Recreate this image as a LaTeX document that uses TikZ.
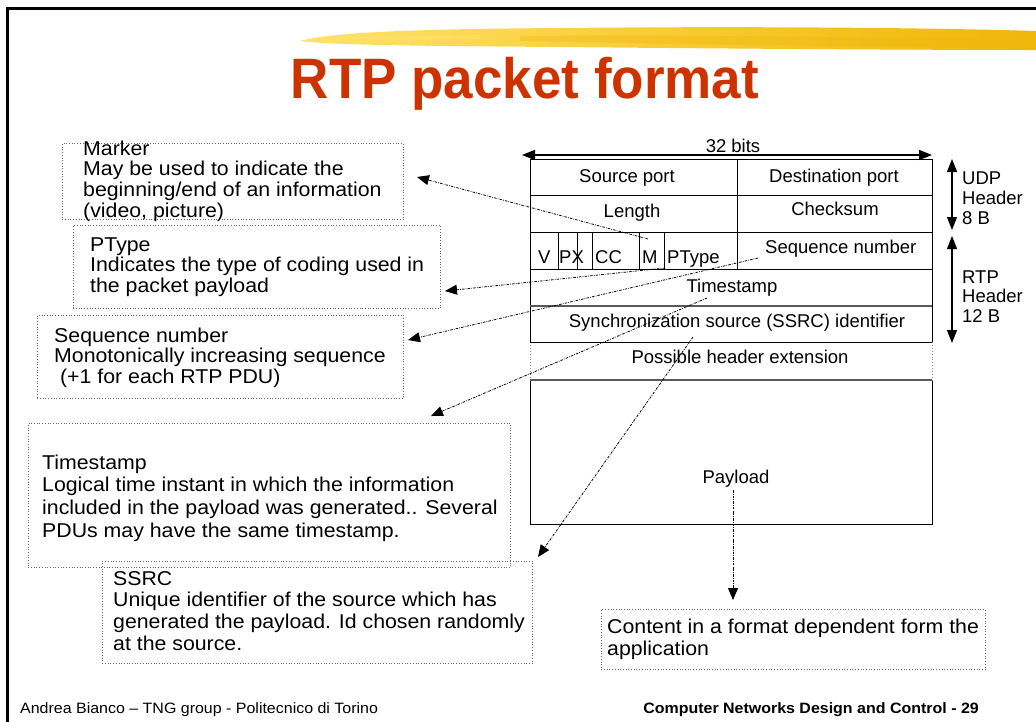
\documentclass[tikz,border=0pt]{standalone}
\usepackage{fontspec}
\setmainfont{Liberation Sans}
\newfontfamily\widefont{Liberation Sans}[FakeStretch=1.065]
\newfontfamily\titlefont{Liberation Sans}[FakeStretch=0.93]
\usetikzlibrary{arrows.meta}
\definecolor{titlered}{RGB}{204,51,0}
\definecolor{brushA}{RGB}{255,226,110}
\definecolor{brushM}{RGB}{248,204,50}
\definecolor{brushB}{RGB}{240,182,10}
\newcommand{\tl}[1]{\vtop{\let\\\cr\halign{##\hfil\cr#1\crcr}}}
\tikzset{
  tbl/.style={font=\fontsize{18.5}{20}\selectfont, inner sep=0},
  note/.style={font=\widefont\fontsize{20}{20.8}\selectfont, inner sep=0, anchor=base west},
  notebox/.style={draw=black!60, dotted, line width=0.7pt, inner sep=0, anchor=north west},
  ptr/.style={dash pattern=on 2.5pt off 1.2pt on 0.7pt off 1.2pt, line width=0.8pt, -{Triangle[length=12pt,width=10pt]}},
  dimarrow/.style={line width=1.1pt, {Triangle[length=13pt,width=10pt]}-{Triangle[length=13pt,width=10pt]}},
  grid/.style={line width=0.9pt},
}
\begin{document}
\begin{tikzpicture}[x=1pt,y=-1pt]
\useasboundingbox (0,0) rectangle (1036,721);
% slide frame
\draw[line width=3pt] (7.5,730) -- (7.5,8.5) -- (1045,8.5);
% brush stroke
\shade[left color=brushA, right color=brushB, middle color=brushM] (300,41) .. controls (330,32) and (420,29) .. (560,28) .. controls (760,26) and (940,28) .. (1036,31) -- (1036,50) .. controls (940,50) and (760,49) .. (560,47) .. controls (420,46) and (330,45) .. cycle;
\fill[brushB, opacity=0.35] (520,36) .. controls (650,35) and (800,36) .. (1036,40) -- (1036,48) .. controls (800,46) and (650,44) .. (520,41) -- cycle;
\fill[brushA, opacity=0.5] (310,40) .. controls (360,36) and (420,35) .. (480,35) -- (480,39) .. controls (420,40) and (360,41) .. cycle;
% title
\node[anchor=base, text=titlered, font=\titlefont\bfseries\fontsize{57}{60}\selectfont, inner sep=0] (title) at (525,98) {RTP packet format};

% ---- packet table ----
\draw[grid] (530,159) -- (932,159);
\draw[grid] (530,159) -- (530,342);
\draw[grid] (932,159) -- (932,342);
\draw[grid] (530,380) -- (530,524) -- (932,524) -- (932,380);
\draw[black!45, dotted, line width=0.9pt] (530,342) -- (530,380);
\draw[black!45, dotted, line width=0.9pt] (932,342) -- (932,380);
\draw[grid] (530,195) -- (932,195);
\draw[grid] (530,232) -- (932,232);
\draw[grid] (530,269) -- (932,269);
\draw[black!65, line width=1.3pt] (530,306) -- (932,306);
\draw[grid] (530,342) -- (932,342);
\draw[black!65, line width=1.3pt] (530,380) -- (932,380);
\draw[grid] (737,159) -- (737,269);
\foreach \xx in {558,577,592,639,664} \draw[line width=0.7pt] (\xx,232) -- (\xx,269);

\node[tbl, anchor=base] (src) at (627,182) {Source port};
\node[tbl, anchor=base] (dst) at (834,182) {Destination port};
\node[tbl, anchor=base] (len) at (632,217) {Length};
\node[tbl, anchor=base] (chk) at (835,215) {Checksum};
\node[tbl, anchor=base west] (fv) at (538,263) {V};
\node[tbl, anchor=base west] (fpx) at (559,263) {PX};
\node[tbl, anchor=base west] (fcc) at (595,263) {CC};
\node[tbl, anchor=base west] (fm) at (642,263) {M};
\node[tbl, anchor=base west] (fpt) at (667,263) {PType};
\node[tbl, anchor=base west] (fseq) at (765,253) {Sequence number};
\node[tbl, anchor=base] (fts) at (732,292) {Timestamp};
\node[tbl, anchor=base] (fssrc) at (737,327) {Synchronization source (SSRC) identifier};
\node[tbl, anchor=base] (fext) at (740,363) {Possible header extension};
\node[tbl, anchor=base] (fpay) at (736,483) {Payload};

% 32 bits
\node[tbl, anchor=base] (bits) at (733,152) {32 bits};
\coordinate (bitsL) at (522,155);
\coordinate (bitsR) at (932,155);
\draw[dimarrow] (bitsL) -- (bitsR);
% UDP / RTP headers
\coordinate (udpT) at (952,159);
\coordinate (udpB) at (952,230);
\coordinate (rtpT) at (952,236);
\coordinate (rtpB) at (952,343);
\draw[dimarrow] (udpT) -- (udpB);
\draw[dimarrow] (rtpT) -- (rtpB);
\node[tbl, anchor=base west] (udp) at (962,184) {\tl{UDP\\Header\\8 B}};
\node[tbl, font=\fontsize{18.5}{19.5}\selectfont, anchor=base west] (rtp) at (962,283) {\tl{RTP\\Header\\12 B}};

% ---- callout boxes ----
\node[notebox, minimum width=341pt, minimum height=76pt] (mkbox) at (62,143) {};
\node[note] (mktxt) at (83,155) {\tl{Marker\\May be used to indicate the\\beginning/end of an information\\(video, picture)}};

\node[notebox, minimum width=367pt, minimum height=83pt] (ptbox) at (73,225) {};
\node[note] (pttxt) at (90,251) {\tl{PType\\Indicates the type of coding used in\\the packet payload}};

\node[notebox, minimum width=366pt, minimum height=83pt] (sqbox) at (37,315) {};
\node[note] (sqtxt) at (54,342) {\tl{Sequence number\\Monotonically increasing sequence\\\ (+1 for each RTP PDU)}};

\node[notebox, minimum width=482pt, minimum height=144pt] (tsbox) at (28,423) {};
\node[note, font=\widefont\fontsize{20}{22.7}\selectfont] (tstxt) at (42,469) {\tl{Timestamp\\Logical time instant in which the information\\included in the payload was generated.. Several\\PDUs may have the same timestamp.}};

\node[notebox, minimum width=430pt, minimum height=102pt] (ssbox) at (102,561) {};
\node[note, font=\widefont\fontsize{20}{21.7}\selectfont] (sstxt) at (113,585) {\tl{SSRC\\Unique identifier of the source which has\\generated the payload. Id chosen randomly\\at the source.}};

\node[notebox, minimum width=384pt, minimum height=60pt] (ctbox) at (601,609) {};
\node[note, font=\widefont\fontsize{20}{22}\selectfont] (cttxt) at (607,633) {\tl{Content in a format dependent form the\\application}};

% ---- pointers ----
\coordinate (mkS) at (648,239);  \coordinate (mkE) at (417,177);
\coordinate (ptS) at (665,268);  \coordinate (ptE) at (445,291);
\coordinate (sqS) at (758,258);  \coordinate (sqE) at (408,340);
\coordinate (tsS) at (707,298);  \coordinate (tsE) at (431,416);
\coordinate (ssS) at (693,337);  \coordinate (ssE) at (538,557);
\coordinate (pyS) at (733,490);  \coordinate (pyE) at (733,600);
\draw[ptr] (mkS) -- (mkE);
\draw[ptr] (ptS) -- (ptE);
\draw[ptr] (sqS) -- (sqE);
\draw[ptr] (tsS) -- (tsE);
\draw[ptr] (ssS) -- (ssE);
\draw[ptr] (pyS) -- (pyE);

% footer
\node[anchor=base west, font=\widefont\fontsize{15}{18}\selectfont, inner sep=0] (auth) at (20,713) {Andrea Bianco – TNG group - Politecnico di Torino};
\node[anchor=base east, font=\widefont\bfseries\fontsize{15}{18}\selectfont, inner sep=0] (course) at (979,713) {Computer Networks Design and Control - 29};
\end{tikzpicture}
\end{document}
